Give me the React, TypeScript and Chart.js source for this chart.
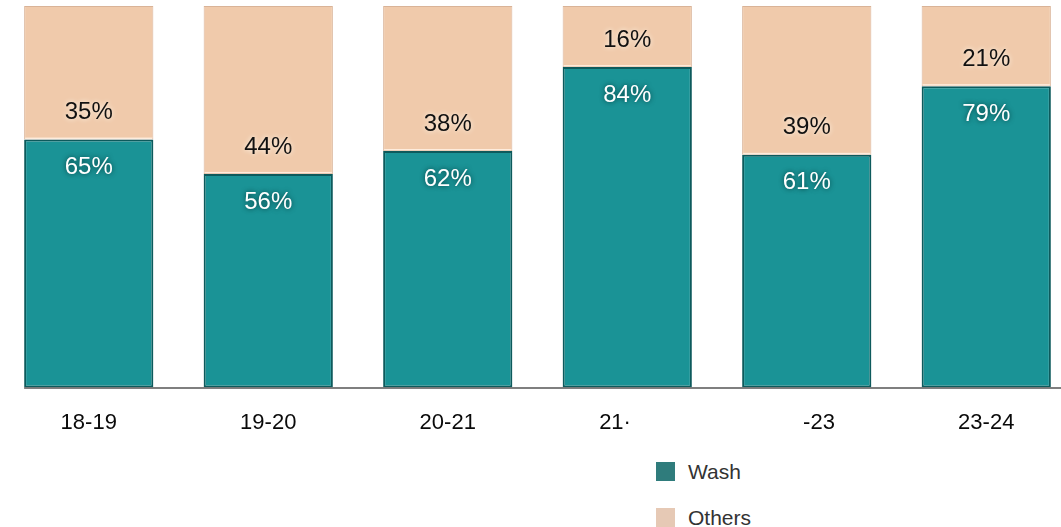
import React, { useEffect, useRef } from "react";
import { Chart, registerables } from "chart.js";

Chart.register(...registerables);

const categories = ["18-19", "19-20", "20-21", "21·    ", "    -23", "23-24"];
const washValues = [65, 56, 62, 84, 61, 79];
const othersValues = [35, 44, 38, 16, 39, 21];
const seriesNames = ["Wash", "Others"];

const TEAL = "#1a9396";
const TEAL_EDGE = "#0d5a5c";
const PEACH = "#f0caab";
const PEACH_EDGE = "#d9b397";
const FONT = "'Liberation Sans', Arial, sans-serif";

const segLabels = {
  id: "segLabels",
  afterDatasetsDraw(chart: any) {
    const ctx = chart.ctx;
    const washMeta = chart.getDatasetMeta(0);
    const othMeta = chart.getDatasetMeta(1);
    ctx.save();
    // light seam between the two segments
    washMeta.data.forEach((bar: any) => {
      const { x, y, width } = bar.getProps(["x", "y", "width"], true);
      ctx.fillStyle = "rgba(255,240,225,0.9)";
      ctx.fillRect(x - width / 2 + 1, y - 2, width - 2, 1.5);
    });
    ctx.font = `24px ${FONT}`;
    ctx.textAlign = "center";
    ctx.textBaseline = "middle";
    washMeta.data.forEach((bar: any, i: number) => {
      const { x, y } = bar.getProps(["x", "y"], true);
      ctx.shadowColor = "rgba(4,55,56,0.95)";
      ctx.shadowBlur = 5;
      ctx.fillStyle = "#ffffff";
      ctx.fillText(`${washValues[i]}%`, x, y + 28);
    });
    othMeta.data.forEach((bar: any, i: number) => {
      const { x, base } = bar.getProps(["x", "base"], true);
      ctx.shadowColor = "rgba(255,250,240,1)";
      ctx.shadowBlur = 5;
      ctx.fillStyle = "#111111";
      ctx.fillText(`${othersValues[i]}%`, x, base - 27);
    });
    ctx.shadowBlur = 0;
    const first = washMeta.data[0].getProps(["x", "width"], true);
    const yb = chart.chartArea.bottom;
    ctx.strokeStyle = "#555555";
    ctx.lineWidth = 1.5;
    ctx.beginPath();
    ctx.moveTo(first.x - first.width / 2, yb + 0.5);
    ctx.lineTo(chart.width, yb + 0.5);
    ctx.stroke();
    ctx.restore();
  },
};

export default function App() {
  const canvasRef = useRef<HTMLCanvasElement | null>(null);

  useEffect(() => {
    if (!canvasRef.current) return;
    const chart = new Chart(canvasRef.current, {
      type: "bar",
      data: {
        labels: categories,
        datasets: [
          {
            label: seriesNames[0],
            data: washValues,
            backgroundColor: TEAL,
            borderColor: TEAL_EDGE,
            borderWidth: 2,
            borderSkipped: false,
            categoryPercentage: 0.8,
            barPercentage: 0.9,
          },
          {
            label: seriesNames[1],
            data: othersValues,
            backgroundColor: PEACH,
            borderColor: PEACH_EDGE,
            borderWidth: 1,
            borderSkipped: false,
            categoryPercentage: 0.8,
            barPercentage: 0.9,
          },
        ],
      },
      options: {
        animation: false,
        responsive: true,
        maintainAspectRatio: false,
        layout: { padding: { top: 6, left: 0, right: 0, bottom: 0 } },
        plugins: {
          legend: { display: false },
          tooltip: { enabled: false },
        },
        scales: {
          x: {
            stacked: true,
            grid: { display: false, drawTicks: false },
            border: { display: false },
            ticks: {
              color: "#0a0a0a",
              font: { family: FONT, size: 22 },
              padding: 22,
              maxRotation: 0,
              autoSkip: false,
            },
          },
          y: {
            stacked: true,
            display: false,
            min: 0,
            max: 100,
          },
        },
      },
      plugins: [segLabels],
    });
    return () => chart.destroy();
  }, []);

  const legendItem = (color: string, text: string, top: number) => (
    <div
      style={{
        position: "absolute",
        left: 656,
        top,
        display: "flex",
        alignItems: "center",
        height: 19,
      }}
    >
      <div style={{ width: 19, height: 19, background: color, boxSizing: "border-box" }} />
      <span
        style={{
          marginLeft: 13,
          fontFamily: FONT,
          fontSize: 21,
          color: "#333333",
          lineHeight: "19px",
          whiteSpace: "nowrap",
        }}
      >
        {text}
      </span>
    </div>
  );

  return (
    <div style={{ position: "fixed", left: 0, top: 0, width: 1061, height: 527, overflow: "hidden", background: "#fff" }}>
      <div style={{ position: "absolute", left: -1, top: 0, width: 1077, height: 458 }}>
        <canvas ref={canvasRef} />
      </div>
      {legendItem("#2f7c7c", seriesNames[0], 462)}
      {legendItem("#e6c9b5", seriesNames[1], 508)}
    </div>
  );
}
